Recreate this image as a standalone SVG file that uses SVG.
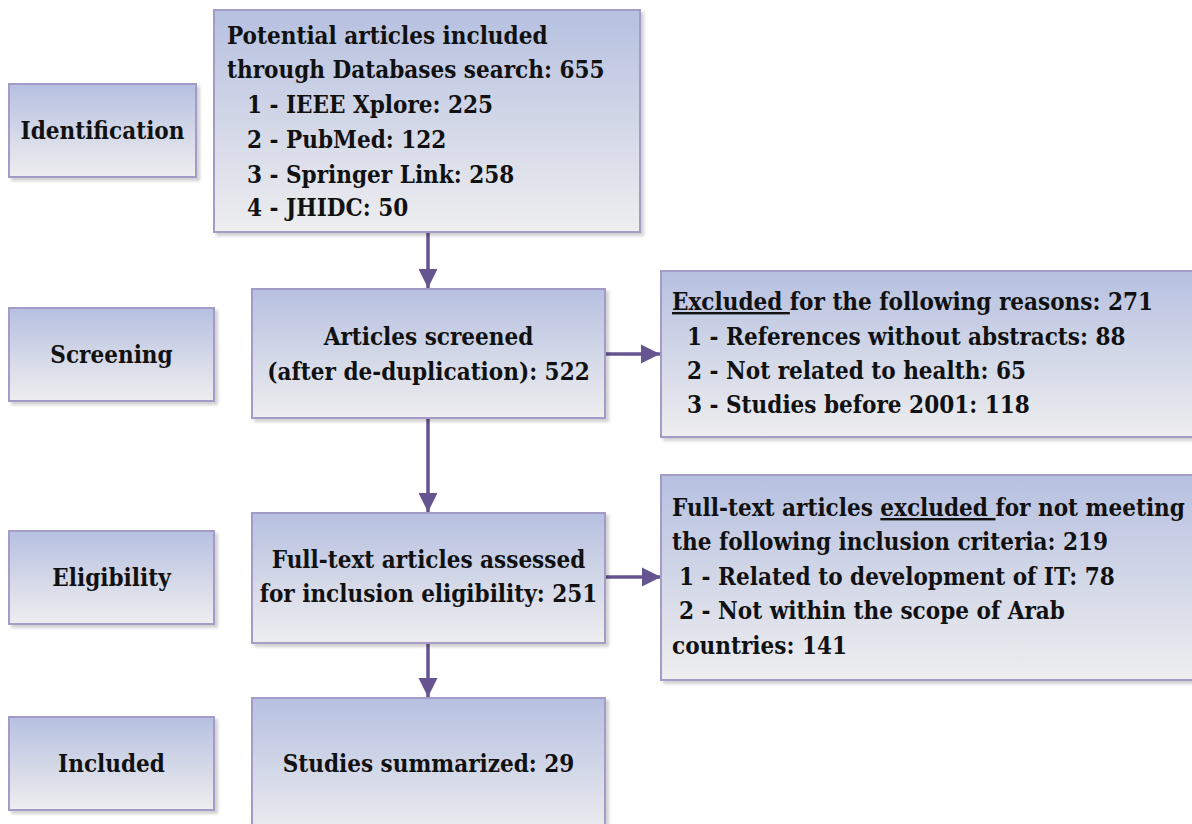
<svg xmlns="http://www.w3.org/2000/svg" width="1192" height="824" viewBox="0 0 1192 824">
  <defs>
    <linearGradient id="boxGrad" x1="0" y1="0" x2="0" y2="1">
      <stop offset="0" stop-color="#b6c0e0"/>
      <stop offset="1" stop-color="#eeeeef"/>
    </linearGradient>
    <filter id="shadow" x="-5%" y="-5%" width="115%" height="115%">
      <feDropShadow dx="3" dy="3" stdDeviation="1.5" flood-color="#000" flood-opacity="0.18"/>
    </filter>
    <marker id="arrow" viewBox="0 0 10 10" refX="10" refY="5" markerWidth="5.5" markerHeight="5.5" markerUnits="strokeWidth" orient="auto">
      <path d="M0,0 L10,5 L0,10 z" fill="#65548f"/>
    </marker>
  </defs>
  <style>
    .box { fill: url(#boxGrad); stroke: #a59bc8; stroke-width: 2; filter: url(#shadow); }
    .t { font-family: "DejaVu Serif", serif; font-stretch: condensed; font-weight: bold; font-size: 24px; fill: #111; }
    .c { text-anchor: middle; }
    .conn { stroke: #65548f; stroke-width: 3.5; fill: none; marker-end: url(#arrow); }
    .u { text-decoration: underline; }
  </style>
  <rect width="1192" height="824" fill="#ffffff"/>

  <g id="connectors">
    <line class="conn" x1="428" y1="233" x2="428" y2="288"/>
    <line class="conn" x1="428" y1="418" x2="428" y2="512"/>
    <line class="conn" x1="428" y1="643" x2="428" y2="697"/>
    <line class="conn" x1="605" y1="354" x2="660" y2="354"/>
    <line class="conn" x1="605" y1="577" x2="661" y2="577"/>
  </g>

  <g id="identification">
    <rect class="box" x="9" y="84" width="187" height="93"/>
    <text class="t c" x="102.5" y="139">Identification</text>
  </g>
  <g id="screening">
    <rect class="box" x="9" y="308" width="205" height="93"/>
    <text class="t c" x="111.5" y="363">Screening</text>
  </g>
  <g id="eligibility">
    <rect class="box" x="9" y="531" width="205" height="93"/>
    <text class="t c" x="111.5" y="586">Eligibility</text>
  </g>
  <g id="included">
    <rect class="box" x="9" y="717" width="205" height="93"/>
    <text class="t c" x="111.5" y="772">Included</text>
  </g>

  <g id="potential">
    <rect class="box" x="214" y="10" width="426" height="222"/>
    <text class="t" x="227" y="44">Potential articles included</text>
    <text class="t" x="227" y="78">through Databases search: 655</text>
    <text class="t" x="247" y="113">1 - IEEE Xplore: 225</text>
    <text class="t" x="247" y="148">2 - PubMed: 122</text>
    <text class="t" x="247" y="183">3 - Springer Link: 258</text>
    <text class="t" x="247" y="216">4 - JHIDC: 50</text>
  </g>
  <g id="screened">
    <rect class="box" x="252" y="289" width="353" height="129"/>
    <text class="t c" x="428.5" y="345">Articles screened</text>
    <text class="t c" x="428.5" y="380">(after de-duplication): 522</text>
  </g>
  <g id="excluded1">
    <rect class="box" x="661" y="271" width="540" height="166"/>
    <text class="t" x="672" y="310"><tspan class="u">Excluded </tspan>for the following reasons: 271</text>
    <text class="t" x="687" y="345">1 - References without abstracts: 88</text>
    <text class="t" x="687" y="379">2 - Not related to health: 65</text>
    <text class="t" x="687" y="413">3 - Studies before 2001: 118</text>
  </g>
  <g id="fulltext">
    <rect class="box" x="252" y="513" width="353" height="130"/>
    <text class="t c" x="428.5" y="568">Full-text articles assessed</text>
    <text class="t c" x="428.5" y="602">for inclusion eligibility: 251</text>
  </g>
  <g id="excluded2">
    <rect class="box" x="661" y="475" width="540" height="205"/>
    <text class="t" x="672" y="516">Full-text articles <tspan class="u">excluded </tspan>for not meeting</text>
    <text class="t" x="672" y="550">the following inclusion criteria: 219</text>
    <text class="t" x="679" y="585">1 - Related to development of IT: 78</text>
    <text class="t" x="679" y="619">2 - Not within the scope of Arab</text>
    <text class="t" x="672" y="654">countries: 141</text>
  </g>
  <g id="studies">
    <rect class="box" x="252" y="698" width="353" height="140"/>
    <text class="t c" x="428.5" y="772">Studies summarized: 29</text>
  </g>
</svg>
